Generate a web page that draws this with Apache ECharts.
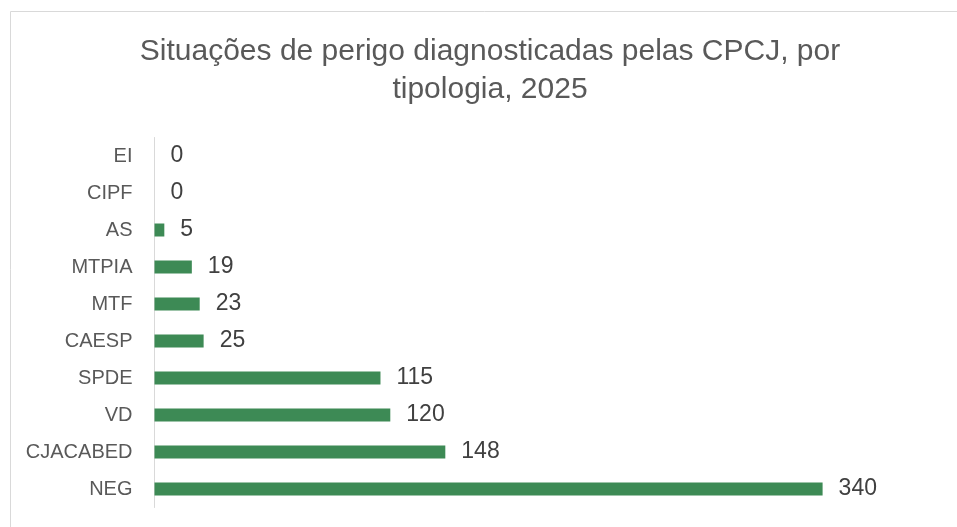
<!DOCTYPE html>
<html>
<head>
<meta charset="utf-8">
<script src="https://cdn.jsdelivr.net/npm/echarts@6/dist/echarts.min.js"></script>
<style>
  html, body { margin: 0; padding: 0; background: #fff; }
  #chart { width: 957px; height: 527px; }
</style>
</head>
<body>
<div id="chart"></div>
<script>
// categories top -> bottom as shown
const categories = ["EI", "CIPF", "AS", "MTPIA", "MTF", "CAESP", "SPDE", "VD", "CJACABED", "NEG"];
const values = [0, 0, 5, 19, 23, 25, 115, 120, 148, 340];

const chartDom = document.getElementById("chart");
const myChart = echarts.init(chartDom);

const options = {
  animation: false,
  graphic: [
    {
      type: "rect",
      shape: { x: 10.5, y: 11.5, width: 960, height: 540 },
      style: { fill: "none", stroke: "#d9d9d9", lineWidth: 1 },
      silent: true,
    },
  ],
  title: {
    text: "Situações de perigo diagnosticadas pelas CPCJ, por\ntipologia, 2025",
    left: 485,
    top: 28,
    textAlign: "center",
    textStyle: {
      color: "#595959",
      fontFamily: "Liberation Sans",
      fontWeight: "normal",
      fontSize: 30,
      lineHeight: 38,
    },
  },
  grid: {
    left: 154.5,
    right: 16.5,
    top: 137.5,
    bottom: 19.5,
    containLabel: false,
  },
  xAxis: {
    type: "value",
    min: 0,
    max: 400,
    show: false,
  },
  yAxis: {
    type: "category",
    inverse: true,
    data: categories,
    axisLine: { show: true, lineStyle: { color: "#d9d9d9", width: 1 } },
    axisTick: { show: false },
    axisLabel: {
      color: "#595959",
      fontFamily: "Liberation Sans",
      fontSize: 20,
      margin: 22,
    },
  },
  series: [
    {
      type: "bar",
      data: values,
      barWidth: 13,
      itemStyle: { color: "#3d8a55" },
      label: {
        show: true,
        position: "right",
        distance: 16,
        color: "#404040",
        fontFamily: "Liberation Sans",
        fontSize: 23,
      },
    },
  ],
};

myChart.setOption(options);
</script>
</body>
</html>
